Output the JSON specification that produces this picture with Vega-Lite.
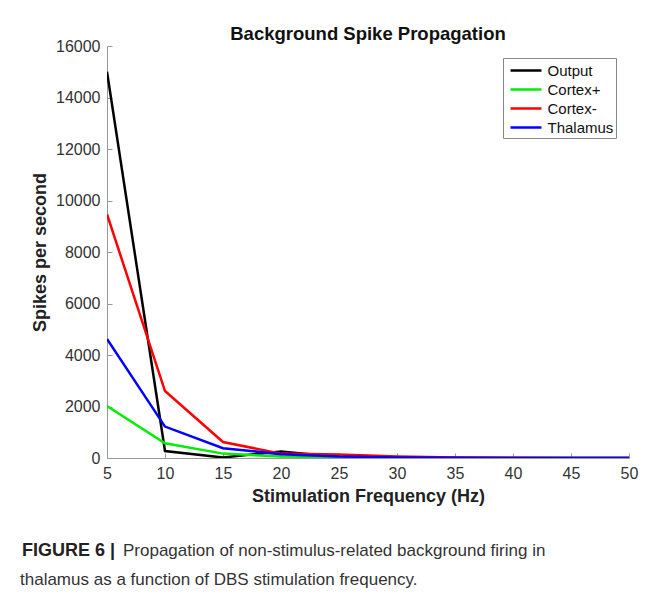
{
  "$schema": "https://vega.github.io/schema/vega-lite/v6.json",
  "padding": {"left": 20, "top": 24, "right": 5, "bottom": 5},
  "background": "white",
  "config": {
    "font": "Liberation Sans",
    "view": {"stroke": null},
    "concat": {"spacing": 31}
  },
  "datasets": {
    "spikes": [
      {"freq": 5, "series": "Output", "spikes": 15000},
      {"freq": 10, "series": "Output", "spikes": 270},
      {"freq": 15, "series": "Output", "spikes": 20},
      {"freq": 20, "series": "Output", "spikes": 250},
      {"freq": 25, "series": "Output", "spikes": 40},
      {"freq": 30, "series": "Output", "spikes": 10},
      {"freq": 35, "series": "Output", "spikes": 0},
      {"freq": 40, "series": "Output", "spikes": 0},
      {"freq": 45, "series": "Output", "spikes": 0},
      {"freq": 50, "series": "Output", "spikes": 0},
      {"freq": 5, "series": "Cortex+", "spikes": 2020},
      {"freq": 10, "series": "Cortex+", "spikes": 570},
      {"freq": 15, "series": "Cortex+", "spikes": 170},
      {"freq": 20, "series": "Cortex+", "spikes": 60},
      {"freq": 25, "series": "Cortex+", "spikes": 25},
      {"freq": 30, "series": "Cortex+", "spikes": 10},
      {"freq": 35, "series": "Cortex+", "spikes": 0},
      {"freq": 40, "series": "Cortex+", "spikes": 0},
      {"freq": 45, "series": "Cortex+", "spikes": 0},
      {"freq": 50, "series": "Cortex+", "spikes": 0},
      {"freq": 5, "series": "Cortex-", "spikes": 9470},
      {"freq": 10, "series": "Cortex-", "spikes": 2600},
      {"freq": 15, "series": "Cortex-", "spikes": 620},
      {"freq": 20, "series": "Cortex-", "spikes": 170},
      {"freq": 25, "series": "Cortex-", "spikes": 140},
      {"freq": 30, "series": "Cortex-", "spikes": 60},
      {"freq": 35, "series": "Cortex-", "spikes": 20},
      {"freq": 40, "series": "Cortex-", "spikes": 5},
      {"freq": 45, "series": "Cortex-", "spikes": 0},
      {"freq": 50, "series": "Cortex-", "spikes": 0},
      {"freq": 5, "series": "Thalamus", "spikes": 4620},
      {"freq": 10, "series": "Thalamus", "spikes": 1220},
      {"freq": 15, "series": "Thalamus", "spikes": 380},
      {"freq": 20, "series": "Thalamus", "spikes": 150},
      {"freq": 25, "series": "Thalamus", "spikes": 60},
      {"freq": 30, "series": "Thalamus", "spikes": 20},
      {"freq": 35, "series": "Thalamus", "spikes": 5},
      {"freq": 40, "series": "Thalamus", "spikes": 0},
      {"freq": 45, "series": "Thalamus", "spikes": 0},
      {"freq": 50, "series": "Thalamus", "spikes": 0}
    ],
    "caption": [
      {"line": 1, "part": "bold", "text": "FIGURE 6 |"},
      {"line": 1, "part": "rest", "text": "Propagation of non-stimulus-related background firing in"},
      {"line": 2, "part": "second", "text": "thalamus as a function of DBS stimulation frequency."}
    ]
  },
  "vconcat": [
    {
      "width": 522,
      "height": 412,
      "title": {
        "text": "Background Spike Propagation",
        "fontSize": 18.5,
        "fontWeight": "bold",
        "color": "#111",
        "offset": -5,
        "anchor": "middle"
      },
      "data": {"name": "spikes"},
      "mark": {"type": "line", "strokeWidth": 2.5, "clip": true},
      "encoding": {
        "x": {
          "field": "freq",
          "type": "quantitative",
          "scale": {"domain": [5, 50], "nice": false, "zero": false},
          "axis": {
            "values": [5, 10, 15, 20, 25, 30, 35, 40, 45, 50],
            "title": "Stimulation Frequency (Hz)",
            "grid": false,
            "domainColor": "#999",
            "tickColor": "#999",
            "tickSize": -5,
            "labelPadding": 12,
            "labelFontSize": 16,
            "labelColor": "#333",
            "titleFontSize": 18,
            "titleFontWeight": "bold",
            "titleColor": "#222",
            "titlePadding": 6,
            "labelFlush": false
          }
        },
        "y": {
          "field": "spikes",
          "type": "quantitative",
          "scale": {"domain": [0, 16000], "nice": false},
          "axis": {
            "values": [0, 2000, 4000, 6000, 8000, 10000, 12000, 14000, 16000],
            "format": "d",
            "title": "Spikes per second",
            "grid": false,
            "domainColor": "#999",
            "tickColor": "#999",
            "tickSize": -5,
            "labelPadding": 12,
            "labelFontSize": 16,
            "labelColor": "#333",
            "titleFontSize": 18,
            "titleFontWeight": "bold",
            "titleColor": "#222",
            "titlePadding": 6,
            "labelFlush": false
          }
        },
        "color": {
          "field": "series",
          "type": "nominal",
          "sort": ["Output", "Cortex+", "Cortex-", "Thalamus"],
          "scale": {
            "domain": ["Output", "Cortex+", "Cortex-", "Thalamus"],
            "range": ["#000000", "#00ee00", "#ff0000", "#0000ff"]
          },
          "legend": {
            "title": null,
            "orient": "none",
            "legendX": 396,
            "legendY": 12,
            "symbolType": "M-1.72,0H1.72",
            "symbolSize": 324,
            "symbolStrokeWidth": 2.5,
            "symbolOffset": 10.5,
            "labelFontSize": 15,
            "labelColor": "#111",
            "rowPadding": 0,
            "padding": 2,
            "strokeColor": "#888",
            "fillColor": "white",
            "labelOffset": 11
          }
        }
      }
    },
    {
      "width": 522,
      "height": 58,
      "data": {"name": "caption"},
      "encoding": {
        "y": {"field": "line", "type": "ordinal", "axis": null},
        "text": {"field": "text"}
      },
      "layer": [
        {
          "transform": [{"filter": "datum.part === 'bold'"}],
          "mark": {"type": "text", "align": "left", "baseline": "middle", "fontSize": 18, "fontWeight": "bold", "color": "#222", "dx": -85},
          "encoding": {"x": {"value": 0}}
        },
        {
          "transform": [{"filter": "datum.part === 'rest'"}],
          "mark": {"type": "text", "align": "left", "baseline": "middle", "fontSize": 17, "color": "#333", "dx": 16},
          "encoding": {"x": {"value": 0}}
        },
        {
          "transform": [{"filter": "datum.part === 'second'"}],
          "mark": {"type": "text", "align": "left", "baseline": "middle", "fontSize": 17, "color": "#333", "dx": -87},
          "encoding": {"x": {"value": 0}}
        }
      ]
    }
  ]
}
